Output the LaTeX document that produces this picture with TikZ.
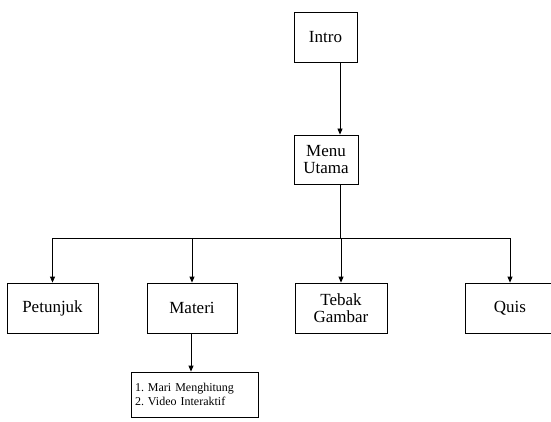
\documentclass[tikz,border=0pt]{standalone}
\usepackage{fontspec}
\setmainfont{Liberation Serif}
\usetikzlibrary{arrows.meta}
\begin{document}
\frenchspacing
\begin{tikzpicture}[x=1pt,y=-1pt,
  box/.style={draw=black,line width=0.8pt,inner sep=0pt,align=center,
    font=\fontsize{17}{17}\selectfont},
  conn/.style={draw=black,line width=0.8pt},
  arr/.style={conn,-{Triangle[length=6pt,width=5pt]}}]
\useasboundingbox (0,0) rectangle (551,422);
\clip (0,0) rectangle (551,422);
\node[box,minimum width=63pt,minimum height=50pt] (intro) at (325.5,37) {Intro};
\node[box,minimum width=64pt,minimum height=49pt] (menu) at (326,159.5) {Menu\\Utama};
\node[box,minimum width=91pt,minimum height=50pt] (petunjuk) at (52.5,308) {Petunjuk};
\node[box,minimum width=90pt,minimum height=50pt] (materi) at (192,308) {Materi};
\node[box,minimum width=92pt,minimum height=50pt] (tebak) at (341,308) {Tebak\\Gambar};
\node[box,minimum width=90pt,minimum height=50pt] (quis) at (510,308) {Quis};
\node[box,minimum height=45pt,text width=119pt,inner xsep=4pt,align=left,
  font=\fontsize{12}{14}\selectfont] (sub) at (194.5,394.5) {1. Mari Menghitung\\2. Video Interaktif};
\coordinate (trunk) at (340,238);
\draw[arr] (intro.south -| trunk) -- (menu.north -| trunk);
\draw[conn] (menu.south -| trunk) -- (trunk);
\draw[conn] (trunk -| petunjuk.north) -- (trunk -| quis.north);
\draw[arr] (trunk -| petunjuk.north) -- (petunjuk.north);
\draw[arr] (trunk -| materi.north) -- (materi.north);
\draw[arr] (trunk -| tebak.north) -- (tebak.north);
\draw[arr] (trunk -| quis.north) -- (quis.north);
\draw[arr] (materi.south -| 191,0) -- (sub.north -| 191,0);
\end{tikzpicture}
\end{document}
